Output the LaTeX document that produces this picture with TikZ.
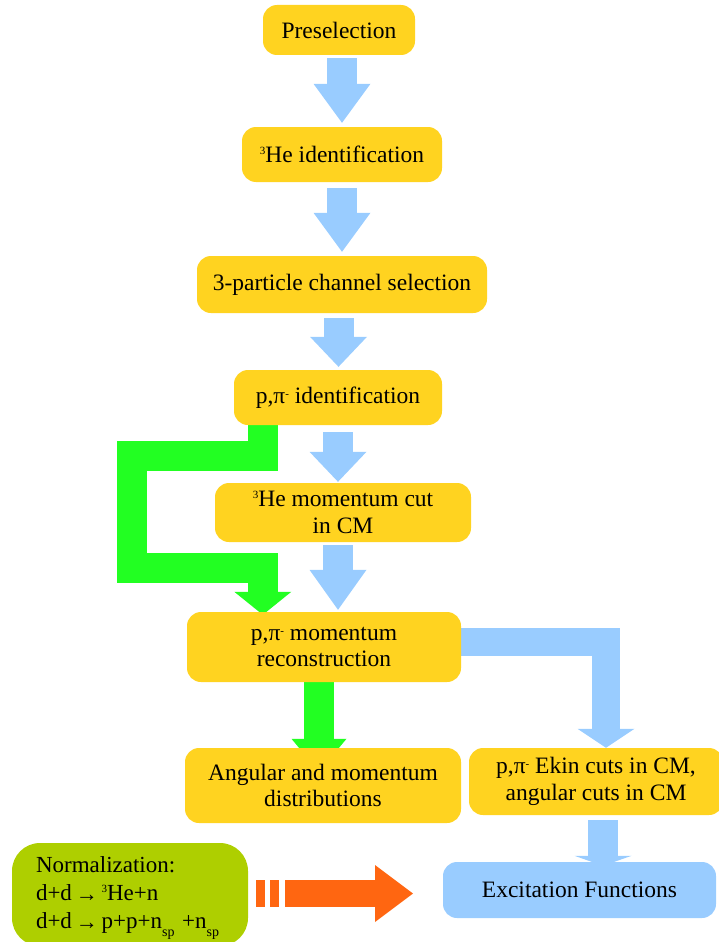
\documentclass[tikz,border=0pt]{standalone}
\usepackage{fontspec}
\setmainfont{Liberation Serif}
\usetikzlibrary{arrows.meta}
\definecolor{gold}{HTML}{FFD320}
\definecolor{lblue}{HTML}{99CCFF}
\definecolor{lgreen}{HTML}{22FF22}
\definecolor{olivegreen}{HTML}{AECF00}
\definecolor{orng}{HTML}{FF6611}
\newcommand\hisup[2][8pt]{\raisebox{#1}{\fontsize{11}{11}\selectfont #2}}
\newcommand\losub[1]{\raisebox{-8pt}[0pt][0pt]{\fontsize{14}{14}\selectfont #1}}
\newcommand\smallarr{\raisebox{-1pt}{\fontsize{22}{22}\selectfont →}}
\pgfdeclarelayer{bg}
\pgfsetlayers{bg,main}
\begin{document}
\begin{tikzpicture}[x=1pt,y=-1pt,
  box/.style={fill=gold, rounded corners=14pt, inner sep=0pt, align=center,
    font=\fontsize{23.5}{26.5}\selectfont},
  barrow/.style={draw=lblue, line width=30pt,
    -{Triangle[length=#1, width=57pt, line width=0pt]}},
  garrow/.style={draw=lgreen, line width=30pt, line join=miter}]
\useasboundingbox (0,0) rectangle (718,942);

\node[box, minimum width=152pt, minimum height=50pt] (pre) at (339,30) {Preselection};
\node[box, minimum width=200pt, minimum height=55pt] (heid) at (342,154.5) {\hisup{3}He identification};
\node[box, minimum width=290pt, minimum height=57pt] (three) at (342,284.5) {3-particle channel selection};
\node[box, minimum width=208pt, minimum height=55pt] (pid) at (338,397.5) {p,π\hisup[6pt]{-} identification};
\node[box, minimum width=256pt, minimum height=59pt] (hemom) at (343,512.5) {\hisup{3}He momentum cut\\in CM};
\node[box, minimum width=274pt, minimum height=70pt] (recon) at (324,647) {p,π\hisup[6pt]{-} momentum\\reconstruction};
\node[box, minimum width=276pt, minimum height=75pt] (ang) at (323,785.5) {Angular and momentum\\distributions};
\node[box, minimum width=254pt, minimum height=67pt] (ekin) at (596,781.5) {p,π\hisup[6pt]{-} Ekin cuts in CM,\\angular cuts in CM};
\node[box, fill=lblue, minimum width=273pt, minimum height=56pt] (exc) at (579.5,890) {Excitation Functions};
\node[box, fill=olivegreen, rounded corners=28pt, minimum width=236pt, minimum height=103pt,
  text width=188pt, align=left, font=\fontsize{23}{28}\selectfont] (norm) at (130,894.5)
  {Normalization:\\d+d\,\smallarr\,\hisup{3}He+n\\d+d\,\smallarr\,p+p+n\losub{sp} +n\losub{sp}};

\coordinate (os) at (256,893.5);
\coordinate (oe) at (413,893.5);

\begin{pgfonlayer}{bg}
\draw[barrow=39pt, shorten <=3pt, shorten >=4pt] ([xshift=3pt]pre.south) -- (heid.north);
\draw[barrow=39pt, shorten <=6pt, shorten >=4pt] (heid.south) -- (three.north);
\draw[barrow=30pt, shorten <=5pt, shorten >=3pt] ([xshift=-3.5pt]three.south) -- ([xshift=0.5pt]pid.north);
\draw[barrow=30pt, shorten <=7pt, shorten >=1pt] (pid.south) -- ([xshift=-5pt]hemom.north);
\draw[barrow=40pt, shorten <=3pt, shorten >=2pt] ([xshift=-5pt]hemom.south) -- ([xshift=14pt]recon.north);
\draw[barrow=10pt, shorten <=5pt, shorten >=-4pt] ([xshift=7pt]ekin.south) -- ([xshift=23.5pt]exc.north);
\draw[draw=lblue, line width=28pt, line join=miter,
  -{Triangle[length=19pt, width=57pt, line width=0pt]}]
  ([yshift=5.5pt]recon.east) -| ([xshift=10pt]ekin.north);
\draw[garrow, -{Triangle[length=23pt, width=57pt, line width=0pt]}, shorten >=-3pt]
  ([xshift=29pt]pid.south west) -- ++(0,30.5) -- ++(-130.5,0) -- ++(0,112)
  -| ([xshift=76pt]recon.north west);
\draw[garrow, -{Triangle[length=33pt, width=55pt, line width=0pt]}, shorten >=-24pt]
  ([xshift=-5pt]recon.south) -- ([xshift=-4pt]ang.north);
\end{pgfonlayer}

\draw[orng, line width=27pt, dash pattern=on 9pt off 5pt on 9pt off 6pt on 300pt off 0pt,
  -{Triangle[length=38pt, width=57pt, line width=0pt]}] (os) -- (oe);
\end{tikzpicture}
\end{document}
